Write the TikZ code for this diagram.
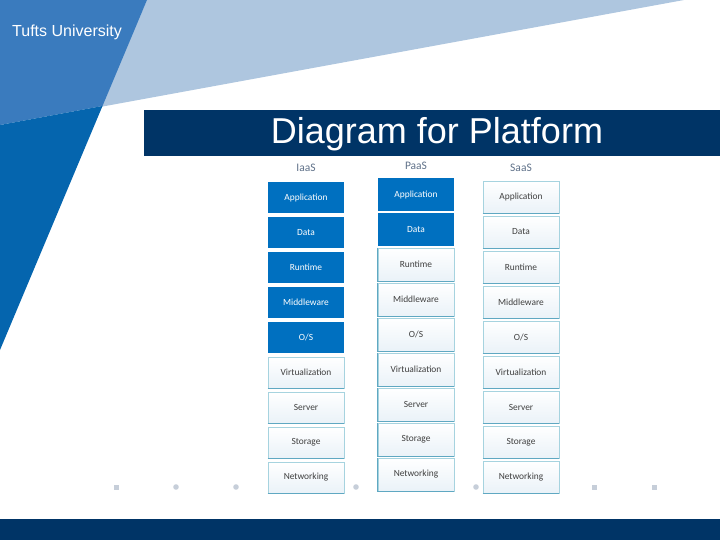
\documentclass[tikz,border=0pt]{standalone}
\usepackage{fontspec}
\setmainfont{Carlito}
\newfontfamily\arialfont{Liberation Sans}
\definecolor{midblue}{HTML}{3A7BBE}
\definecolor{darkblue}{HTML}{0565AE}
\definecolor{lightblue}{HTML}{AEC6DF}
\definecolor{navy}{HTML}{003466}
\definecolor{boxblue}{HTML}{0070C0}
\definecolor{boxedge}{HTML}{A6D3DF}
\definecolor{boxedgedark}{HTML}{5FA8C2}
\definecolor{boxtext}{HTML}{404040}
\definecolor{headtext}{HTML}{5E7088}
\definecolor{dotcol}{HTML}{C6CED9}
\definecolor{boxshade}{HTML}{EAF2F8}
\begin{document}
\begin{tikzpicture}[x=1pt,y=-1pt,
  layerbox/.style={rectangle, inner sep=0pt, minimum width=76pt,
    font=\fontsize{9.4}{10}\selectfont},
  bluebox/.style={layerbox, fill=boxblue, text=white},
  whitebox/.style={layerbox, draw=boxedge, line width=0.7pt, top color=white,
    bottom color=boxshade, text=boxtext},
  headlabel/.style={font=\fontsize{11.5}{12}\selectfont, text=headtext},
  dotmark/.style={fill=dotcol}]
\useasboundingbox (0,0) rectangle (720,540);
% background shapes
\fill[lightblue] (147,0) -- (684,0) -- (100,107) -- cycle;
\fill[midblue] (0,0) -- (147,0) -- (102.5,106) -- (0,125) -- cycle;
\fill[darkblue] (0,125) -- (102.5,106) -- (0,350) -- cycle;
\node[anchor=base west, text=white, font=\arialfont\fontsize{16}{17}\selectfont, inner sep=0pt] (tufts) at (12,37) {Tufts University};
\fill[navy] (144,110) rectangle (720,156);
\node[text=white, font=\arialfont\fontsize{36}{38}\selectfont, inner sep=0pt] (title) at (437,134) {Diagram for Platform};
\fill[navy] (0,519) rectangle (720,540);
% dots
\foreach \x in {116,594,654} \fill[dotmark] (\x-2.5,484.5) rectangle (\x+2.5,489.5);
\foreach \x in {176,236,356,476} \fill[dotmark] (\x,487) circle (2.8);
% headers
\node[headlabel] (hI) at (306,168) {IaaS};
\node[headlabel] (hP) at (416,166) {PaaS};
\node[headlabel] (hS) at (521,168) {SaaS};
% IaaS
\foreach \s/\t [count=\i] in {bluebox/Application,bluebox/Data,bluebox/Runtime,bluebox/Middleware,bluebox/{O/S},whitebox/Virtualization,whitebox/Server,whitebox/Storage,whitebox/Networking}
  \node[\s, minimum height=31pt] (ia\i) at (306,{197.5+35*(\i-1)}) {\t};
\foreach \i in {6,...,9} \draw[boxedgedark, line width=0.8pt] (ia\i.south west) -- (ia\i.south east);
% PaaS
\foreach \s/\t [count=\i] in {bluebox/Application,bluebox/Data,whitebox/Runtime,whitebox/Middleware,whitebox/{O/S},whitebox/Virtualization,whitebox/Server,whitebox/Storage,whitebox/Networking}
  \node[\s, minimum height=33pt] (pa\i) at (416,{194.5+35*(\i-1)}) {\t};
\foreach \i in {3,...,9} \draw[boxedgedark, line width=0.8pt] (pa\i.north west) -- (pa\i.south west) -- (pa\i.south east);
% SaaS
\foreach \t [count=\i] in {Application,Data,Runtime,Middleware,{O/S},Virtualization,Server,Storage,Networking}
  \node[whitebox, minimum height=32pt] (sa\i) at (521,{197+35*(\i-1)}) {\t};
\foreach \i in {1,...,9} \draw[boxedgedark, line width=0.8pt] (sa\i.south west) -- (sa\i.south east);
\end{tikzpicture}
\end{document}
